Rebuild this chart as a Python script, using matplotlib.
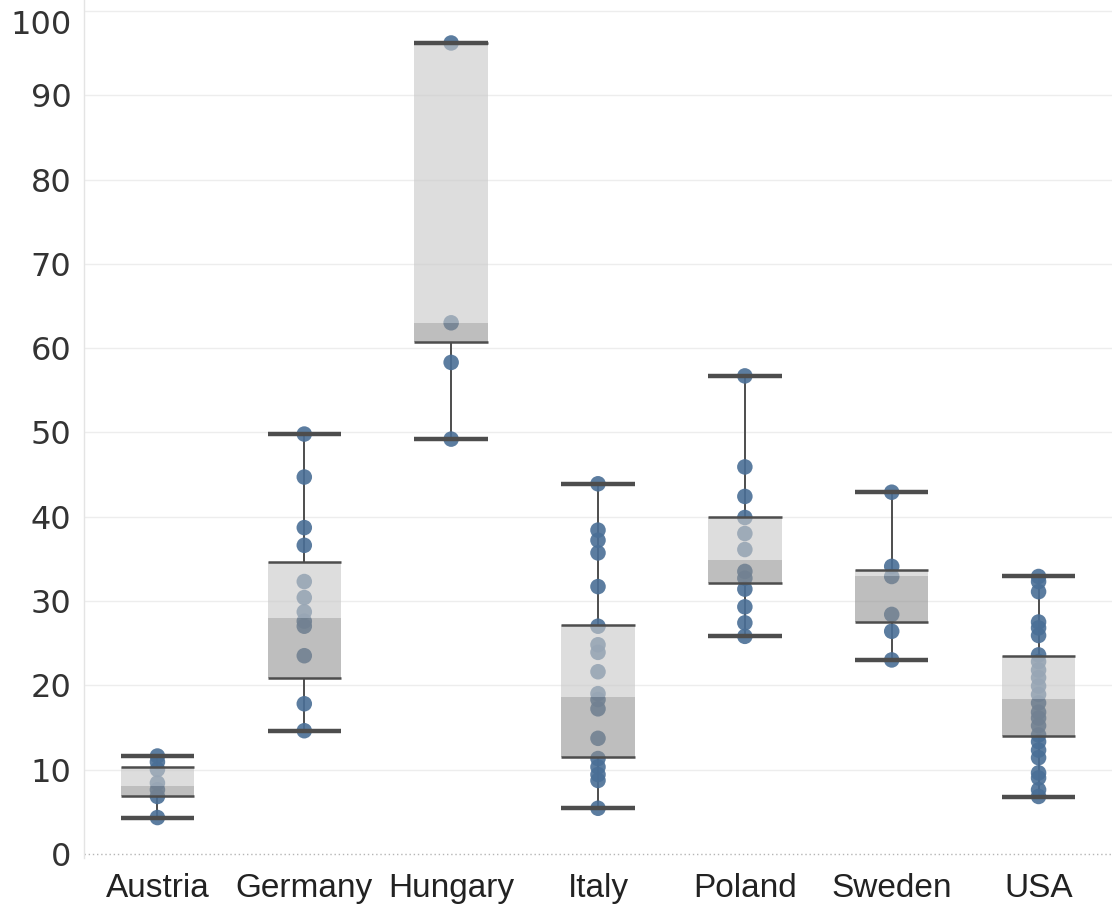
import matplotlib
matplotlib.use("Agg")
import matplotlib.pyplot as plt
import matplotlib.transforms as mtransforms

countries = ["Austria", "Germany", "Hungary", "Italy", "Poland", "Sweden", "USA"]

austria = [4.3, 6.8, 7.6, 8.4, 10.0, 10.9, 11.6]
germany = [49.8, 44.7, 38.7, 36.6, 32.3, 30.4, 28.7, 27.6, 27.0, 23.5, 17.8, 14.6]
hungary = [96.2, 63.0, 58.3, 49.2]
italy = [43.9, 38.4, 37.2, 35.7, 31.7, 27.0, 24.8, 23.9, 21.6, 19.0, 18.3, 17.2,
         13.7, 11.3, 10.3, 9.4, 8.7, 5.4]
poland = [56.7, 45.9, 42.4, 39.9, 38.0, 36.1, 33.5, 32.7, 31.4, 29.3, 27.4, 25.8]
sweden = [42.9, 34.1, 32.9, 28.4, 26.4, 23.0]
usa = [32.9, 32.3, 31.1, 27.5, 26.8, 25.9, 23.6, 22.8, 21.8, 20.9, 19.9, 18.9,
       17.9, 16.8, 16.1, 15.2, 14.1, 13.3, 12.3, 11.4, 9.6, 9.0, 7.6, 6.8]
values = [austria, germany, hungary, italy, poland, sweden, usa]

# box statistics per country
whisker_lo = [4.3, 14.6, 49.2, 5.4, 25.8, 23.0, 6.7]
box_lo = [6.9, 20.9, 60.7, 11.5, 32.1, 27.5, 14.0]
median = [8.1, 28.0, 63.0, 18.6, 34.9, 32.9, 18.4]
box_hi = [10.3, 34.6, 96.2, 27.1, 39.9, 33.7, 23.5]
whisker_hi = [11.6, 49.8, 96.2, 43.9, 56.7, 42.9, 32.9]

y_ticks = [0, 10, 20, 30, 40, 50, 60, 70, 80, 90, 100]

W, H = 1114, 922
fig = plt.figure(figsize=(W / 100, H / 100), dpi=100)
ax = fig.add_axes([84 / W, (H - 858) / H, (1112 - 84) / W, 858 / H])

pos = list(range(len(countries)))
half = 0.25
line_col = "#4d4d4d"
dot_col = "#4a6f96"

# data points
for i, vals in enumerate(values):
    ax.scatter([i] * len(vals), vals, s=125, color=dot_col, alpha=0.9,
               edgecolors="none", zorder=3)

# whiskers
ax.vlines(pos, whisker_lo, box_lo, color=line_col, lw=1.4, zorder=2)
ax.vlines(pos, box_hi, whisker_hi, color=line_col, lw=1.4, zorder=2)
ax.hlines(whisker_lo, [p - half for p in pos], [p + half for p in pos],
          color=line_col, lw=3.2, zorder=5)
ax.hlines(whisker_hi, [p - half for p in pos], [p + half for p in pos],
          color=line_col, lw=3.2, zorder=5)

# box bands: lower (darker) and upper (lighter)
lower_h = [m - lo for m, lo in zip(median, box_lo)]
upper_h = [hi - m for hi, m in zip(box_hi, median)]
ax.bar(pos, lower_h, bottom=box_lo, width=2 * half, color="#8f8f8f",
       alpha=0.58, edgecolor="none", zorder=4)
ax.bar(pos, upper_h, bottom=median, width=2 * half, color="#c8c8c8",
       alpha=0.62, edgecolor="none", zorder=4)
ax.hlines(box_lo, [p - half for p in pos], [p + half for p in pos],
          color=line_col, lw=1.8, zorder=5)
ax.hlines(box_hi, [p - half for p in pos], [p + half for p in pos],
          color=line_col, lw=1.8, zorder=5)

# axes styling
ax.set_xlim(-0.5, len(countries) - 0.5)
ax.set_ylim(-0.5, 101.3)
ax.set_yticks(y_ticks)
ax.set_yticklabels([str(t) for t in y_ticks])
ax.set_xticks(pos)
ax.set_xticklabels(countries)
for t in y_ticks[1:]:
    ax.axhline(t, color="#ededed", lw=1.0, zorder=0)
ax.axhline(0, color="#b5b5b5", lw=1.0, ls=(0, (1, 2)), zorder=0)

for side in ["top", "right", "bottom"]:
    ax.spines[side].set_visible(False)
ax.spines["left"].set_color("#e4e4e4")
ax.spines["left"].set_linewidth(1.0)

ax.tick_params(axis="y", length=0, pad=9, labelsize=23, labelcolor="#333333")
ax.tick_params(axis="x", length=0, pad=11, labelsize=24, labelcolor="#222222")
for lab in ax.get_yticklabels():
    lab.set_fontfamily("DejaVu Sans")
for lab in ax.get_xticklabels():
    lab.set_fontfamily(["Liberation Sans", "DejaVu Sans"])

# keep the top tick label inside the canvas
top_lab = ax.get_yticklabels()[-1]
top_lab.set_transform(top_lab.get_transform() +
                      mtransforms.ScaledTranslation(0, -11 / 100, fig.dpi_scale_trans))

fig.savefig("out.png", dpi=100, facecolor="white")
